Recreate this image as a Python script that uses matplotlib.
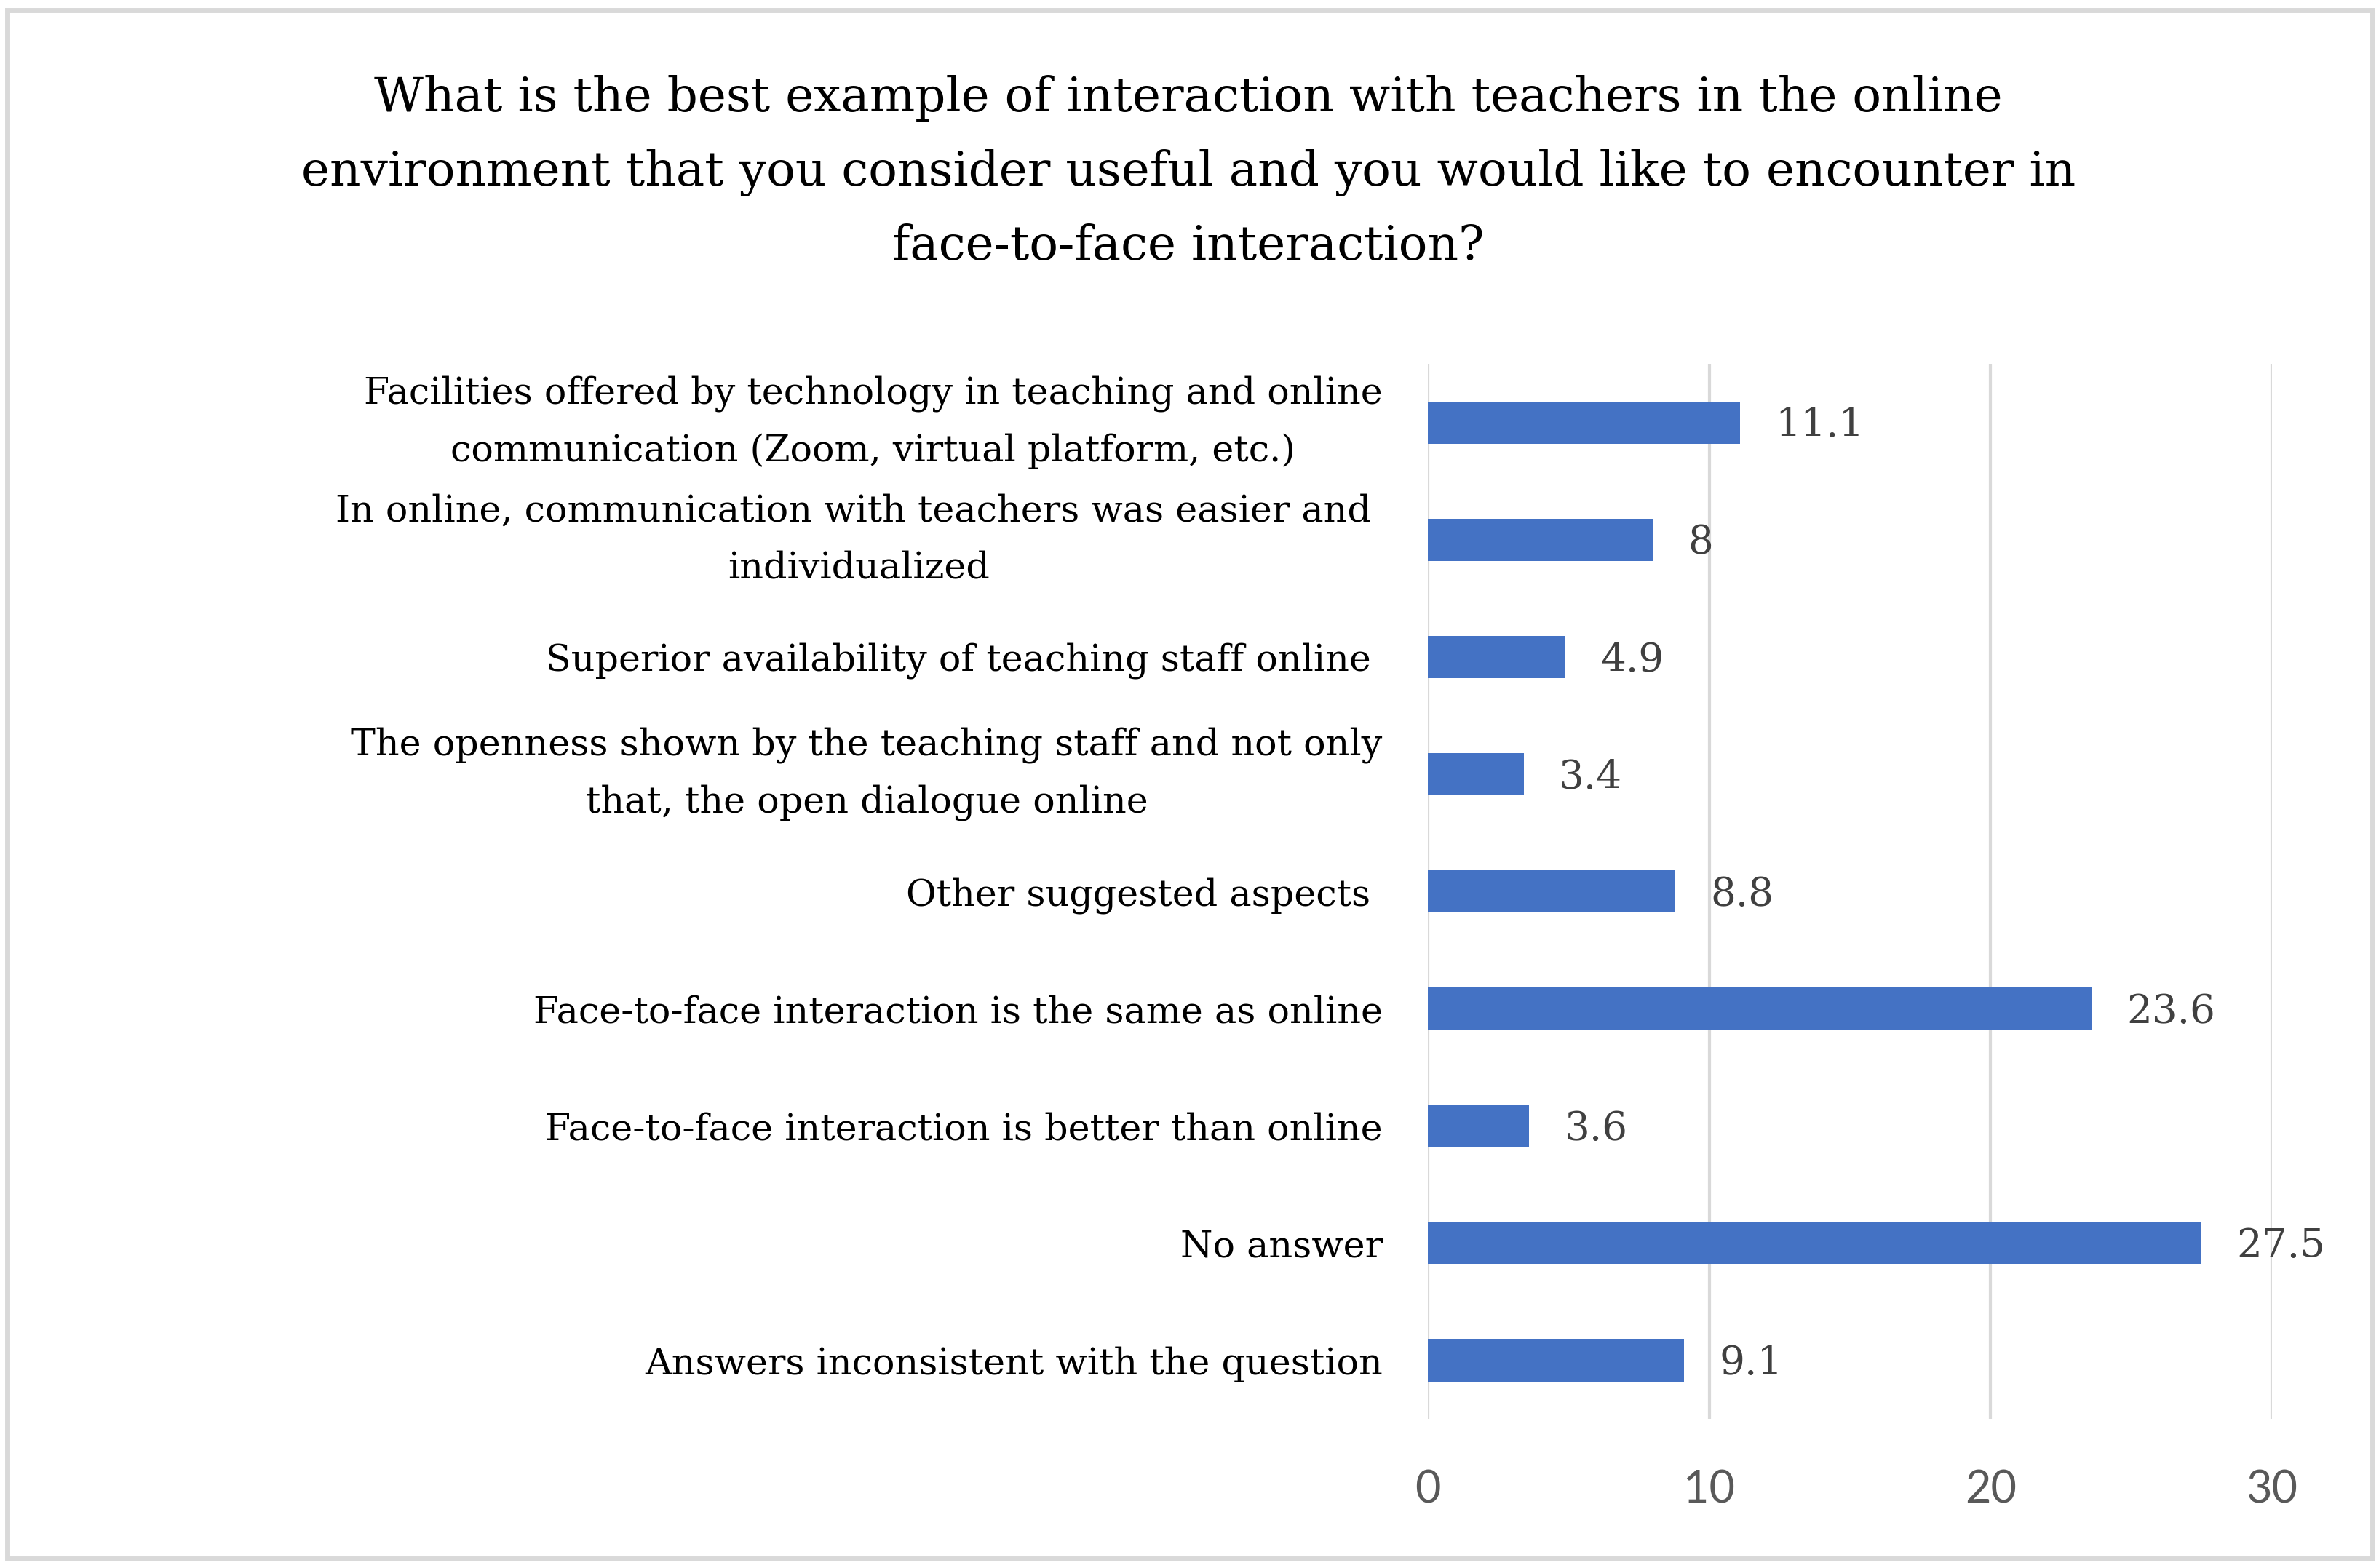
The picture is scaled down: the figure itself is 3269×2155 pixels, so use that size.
import matplotlib
matplotlib.use("Agg")
import matplotlib.pyplot as plt
from matplotlib.patches import Rectangle
from matplotlib.transforms import ScaledTranslation

# data
categories = [
    "Facilities offered by technology in teaching and online\ncommunication (Zoom, virtual platform, etc.)",
    "In online, communication with teachers was easier and \nindividualized",
    "Superior availability of teaching staff online ",
    "The openness shown by the teaching staff and not only\nthat, the open dialogue online",
    "Other suggested aspects ",
    "Face-to-face interaction is the same as online",
    "Face-to-face interaction is better than online",
    "No answer",
    "Answers inconsistent with the question",
]
values = [11.1, 8, 4.9, 3.4, 8.8, 23.6, 3.6, 27.5, 9.1]
x_ticks = [0, 10, 20, 30]
title = ("What is the best example of interaction with teachers in the online\n"
         "environment that you consider useful and you would like to encounter in\n"
         "face-to-face interaction?")

SERIF = ["DejaVu Serif"]
BAR = "#4472C4"
GRID = "#D9D9D9"

fig = plt.figure(figsize=(32.69, 21.55), dpi=100)
ax = fig.add_axes([0.6002, 0.0951, 0.955 - 0.6002, 0.768 - 0.0951])

y = list(range(len(categories)))
ax.barh(y, values, height=0.36, color=BAR, zorder=3)
ax.set_ylim(len(categories) - 0.5, -0.5)
ax.set_xlim(0, 30)

for yi, v in zip(y, values):
    ax.text(v + 1.25, yi + 0.03, f"{v:g}", va="center", ha="left",
            fontsize=39.5, color="#404040", family=SERIF)

ax.set_yticks(y)
ax.set_yticklabels(categories, family=SERIF, fontsize=36.5, linespacing=1.75)
nudge = ScaledTranslation(0, -0.06, fig.dpi_scale_trans)
for lab in ax.get_yticklabels():
    lab.set_multialignment("center")
    if "\n" in lab.get_text():
        lab.set_verticalalignment("center")
        lab.set_transform(lab.get_transform() + nudge)
ax.set_xticks(x_ticks)
ax.set_xticklabels([str(t) for t in x_ticks], family="Lato", fontsize=44, color="#595959")
ax.tick_params(axis="y", length=0, pad=45)
ax.tick_params(axis="x", length=0, pad=50)

ax.grid(axis="x", color=GRID, linewidth=3, zorder=0)
for s in ax.spines.values():
    s.set_visible(False)

fig.text(0.4995, 0.89, title, ha="center", va="center", fontsize=47.5,
         family=SERIF, linespacing=1.75)

fig.patches.append(Rectangle((10 / 3269, 1 - 2142 / 2155), 3250 / 3269, 2128 / 2155,
                             transform=fig.transFigure, fill=False,
                             edgecolor=GRID, linewidth=5))

fig.savefig("out.png", dpi=100)
